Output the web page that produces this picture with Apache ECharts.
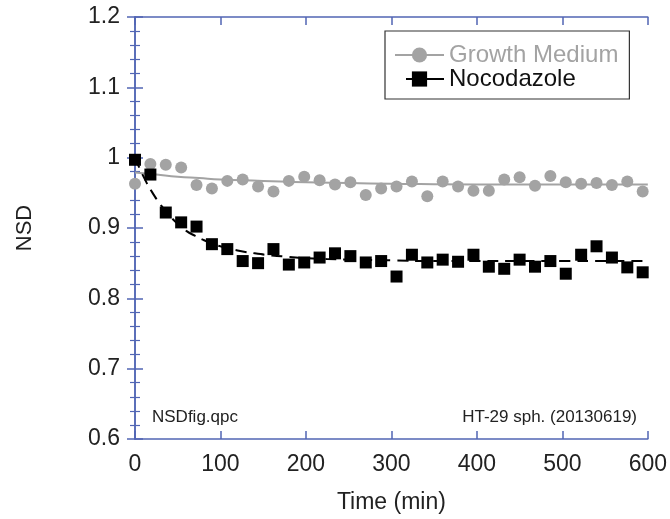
<!DOCTYPE html>
<html>
<head>
<meta charset="utf-8">
<script src="https://cdn.jsdelivr.net/npm/echarts@6/dist/echarts.min.js"></script>
<style>
html,body{margin:0;padding:0;background:#fff;}
#chart{width:670px;height:519px;}
</style>
</head>
<body>
<div id="chart"></div>
<script>
// Sample times (min)
var times = [0,18,36,54,72,90,108,126,144,162,180,198,216,234,252,270,288,306,324,342,360,378,396,414,432,450,468,486,504,522,540,558,576,594];
// Growth Medium NSD
var growthMedium = [0.963,0.991,0.990,0.986,0.961,0.956,0.967,0.969,0.959,0.952,0.967,0.973,0.968,0.962,0.965,0.947,0.956,0.959,0.966,0.945,0.966,0.959,0.953,0.953,0.969,0.972,0.960,0.974,0.965,0.963,0.964,0.961,0.966,0.952];
// Nocodazole NSD
var nocodazole = [0.997,0.976,0.922,0.908,0.902,0.877,0.870,0.853,0.850,0.870,0.848,0.851,0.858,0.864,0.860,0.851,0.853,0.831,0.862,0.851,0.855,0.852,0.862,0.845,0.842,0.855,0.845,0.853,0.835,0.862,0.874,0.858,0.844,0.837];
// Fit curve for Growth Medium
var gmFitTimes = [0,25,50,75,100,125,150,200,250,300,400,500,600];
var gmFitValues = [0.979,0.976,0.973,0.971,0.969,0.968,0.967,0.965,0.964,0.963,0.962,0.962,0.962];
// Fit curve for Nocodazole
var ncFitTimes = [0,10,20,30,40,50,60,70,80,90,100,120,140,160,180,200,250,300,350,400,450,500,550,600];
var ncFitValues = [1.000,0.973,0.951,0.933,0.918,0.906,0.896,0.889,0.883,0.878,0.874,0.868,0.864,0.861,0.859,0.857,0.855,0.854,0.853,0.853,0.853,0.853,0.853,0.853];
// Axis ticks
var xTicks = {min:0, max:600, interval:100};
var yTicks = {min:0.6, max:1.2, interval:0.1};

function pairs(xs, ys){ return xs.map(function(x,i){ return [x, ys[i]]; }); }

var FONT = 'Liberation Sans, Arial, Helvetica, sans-serif';
var AXIS = '#5166b4';
var GRAY = '#a3a3a3';

var chart = echarts.init(document.getElementById('chart'), null, {renderer:'canvas'});
var axisLine = {show:true, lineStyle:{color:AXIS, width:1.5}};
var option = {
  animation:false,
  backgroundColor:'#fff',
  grid:{left:135, right:22, top:17, bottom:76, containLabel:false},
  xAxis:[{
    type:'value', position:'bottom', min:xTicks.min, max:xTicks.max, interval:xTicks.interval,
    axisLine:axisLine,
    axisTick:{show:true, inside:true, length:8, lineStyle:{color:AXIS, width:1.5}},
    axisLabel:{fontSize:23, color:'#222', margin:14, fontFamily:FONT},
    splitLine:{show:false},
    name:'Time (min)', nameLocation:'middle', nameGap:52,
    nameTextStyle:{fontSize:23, color:'#222', fontFamily:FONT}
  },{
    type:'value', position:'top', min:xTicks.min, max:xTicks.max, interval:xTicks.interval,
    axisLine:axisLine,
    axisTick:{show:true, inside:true, length:8, lineStyle:{color:AXIS, width:1.5}},
    axisLabel:{show:false}, splitLine:{show:false}
  }],
  yAxis:[{
    type:'value', position:'left', min:yTicks.min, max:yTicks.max, interval:yTicks.interval,
    axisLine:axisLine,
    axisTick:{show:true, inside:true, length:8, lineStyle:{color:AXIS, width:1.5}},
    minorTick:{show:true, splitNumber:5, length:5, lineStyle:{color:AXIS, width:1.2}},
    axisLabel:{fontSize:23, color:'#222', margin:15, fontFamily:FONT},
    splitLine:{show:false},
    name:'NSD', nameLocation:'middle', nameGap:99, nameRotate:90,
    nameTextStyle:{fontSize:22, color:'#222', fontFamily:FONT}
  },{
    type:'value', position:'right', min:yTicks.min, max:yTicks.max, interval:yTicks.interval,
    axisLine:axisLine,
    axisTick:{show:true, inside:true, length:8, lineStyle:{color:AXIS, width:1.5}},
    minorTick:{show:true, splitNumber:5, length:5, lineStyle:{color:AXIS, width:1.2}},
    axisLabel:{show:false}, splitLine:{show:false}
  }],
  legend:{
    orient:'vertical', left:385, top:31,
    itemWidth:49, itemHeight:19, itemGap:0,
    padding:[12,11,8,9],
    borderColor:'#333', borderWidth:1.2, backgroundColor:'#fff',
    textStyle:{fontSize:24, lineHeight:24, fontFamily:FONT},
    data:[
      {name:'Growth Medium', textStyle:{color:GRAY}, lineStyle:{opacity:1, width:2, color:GRAY, type:'solid'}},
      {name:'Nocodazole', textStyle:{color:'#111'}, lineStyle:{opacity:1, width:2, color:'#000', type:[38,11], dashOffset:38}}
    ]
  },
  graphic:[
    {type:'text', left:152, top:409, style:{text:'NSDfig.qpc', font:'17px ' + FONT, fill:'#222'}},
    {type:'text', right:33, top:409, style:{text:'HT-29 sph. (20130619)', font:'17px ' + FONT, fill:'#222'}}
  ],
  series:[
    {name:'GM fit', type:'line', smooth:true, symbol:'none', z:2,
     data:pairs(gmFitTimes, gmFitValues),
     lineStyle:{color:GRAY, width:2}},
    {name:'Growth Medium', type:'line', symbol:'circle', symbolSize:12, z:3,
     data:pairs(times, growthMedium),
     itemStyle:{color:GRAY}, lineStyle:{color:GRAY, width:2, opacity:0}},
    {name:'NC fit', type:'line', smooth:true, symbol:'none', z:4,
     data:pairs(ncFitTimes, ncFitValues),
     lineStyle:{color:'#000', width:2, type:[11,7]}},
    {name:'Nocodazole', type:'line', symbol:'rect', symbolSize:12, z:5,
     data:pairs(times, nocodazole),
     itemStyle:{color:'#000'}, lineStyle:{color:'#000', width:2, opacity:0}}
  ]
};
chart.setOption(option);
</script>
</body>
</html>
